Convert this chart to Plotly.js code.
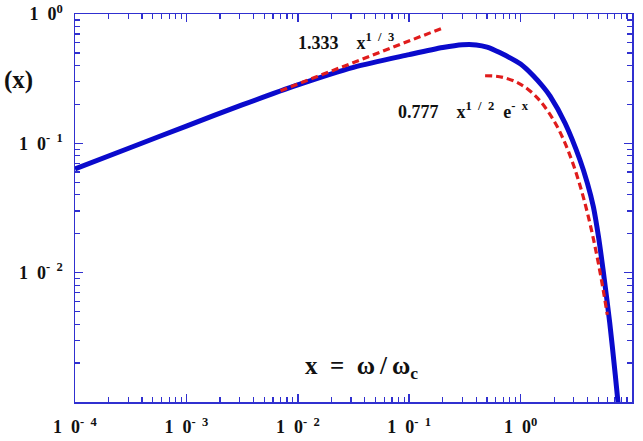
<!DOCTYPE html>
<html><head>
<script src="https://cdn.plot.ly/plotly-3.0.1.min.js"></script>
<style>html,body{margin:0;padding:0;background:#fff}</style>
</head>
<body>
<div id="chart" style="width:643px;height:441px"></div>
<script>
// Main curve
const curveX = [1e-4, 3.16e-4, 1e-3, 3.16e-3, 0.01, 0.0316, 0.1, 0.2, 0.3, 0.4, 0.5, 0.65, 1.0, 1.3, 1.585, 1.84, 2.51, 3.4, 3.98, 4.5, 5.01, 5.5, 6.31, 7.08, 7.48, 8.0];
const curveY = [0.0633, 0.0928, 0.136, 0.198, 0.283, 0.387, 0.485, 0.55, 0.578, 0.577, 0.555, 0.503, 0.41, 0.333, 0.275, 0.232, 0.143, 0.075, 0.049, 0.0323, 0.0188, 0.0105, 0.0041, 0.00162, 0.001, 0.00062];
// Low-x asymptote, 1.333 x^(1/3)
const lowX = [0.007, 0.01, 0.02, 0.05, 0.1, 0.2];
const lowY = [0.255, 0.287, 0.362, 0.491, 0.619, 0.780];
// High-x asymptote, 0.777 x^(1/2) e^(-x)
const highX = [0.48, 0.6, 0.7, 0.85, 1.0, 1.2, 1.5, 2.0, 2.5, 3.0, 3.5, 4.0, 4.5, 5.0, 5.5, 6.0];
const highY = [0.333, 0.3303, 0.3228, 0.3062, 0.2858, 0.2564, 0.2123, 0.1487, 0.1008, 0.0670, 0.0439, 0.02846, 0.01831, 0.01171, 0.00745, 0.00472];
// Tick labels
const xTickVals = [1e-4, 1e-3, 1e-2, 1e-1, 1e0, 1e1];
const xTickText = ['1\u20020<sup>-\u20024</sup>', '1\u20020<sup>-\u20023</sup>', '1\u20020<sup>-\u20022</sup>', '1\u20020<sup>-\u20021</sup>', '1\u20020<sup>0</sup>', '1\u20020<sup>1</sup>'];
const yTickVals = [1e-2, 1e-1, 1e0];
const yTickText = ['1\u20020<sup>-\u20022</sup>', '1\u20020<sup>-\u20021</sup>', '1\u20020<sup>0</sup>'];

function minorTicks(lo, hi) {
  const v = [];
  for (let e = lo; e < hi; e++) for (let d = 2; d <= 9; d++) v.push(d * Math.pow(10, e));
  return v;
}

const axisColor = '#3030d0';
const serif = 'Liberation Serif, Times New Roman, serif';
const tickFont = {family: serif, size: 18, color: '#111', weight: 'bold'};
const annFont = {family: serif, size: 18, color: '#111', weight: 'bold'};

const traces = [
  {x: curveX, y: curveY, mode: 'lines', line: {color: '#0a0acc', width: 5, shape: 'spline', smoothing: 0.8}, hoverinfo: 'skip'},
  {x: lowX, y: lowY, mode: 'lines', line: {color: '#e01c1c', width: 3.2, dash: '7px,4px'}, hoverinfo: 'skip'},
  {x: highX, y: highY, mode: 'lines', line: {color: '#e01c1c', width: 3.2, dash: '7px,4px', shape: 'spline'}, hoverinfo: 'skip'}
];

const axisCommon = {
  type: 'log', showgrid: false, zeroline: false,
  showline: true, linecolor: axisColor, linewidth: 1.5, mirror: 'allticks',
  ticks: 'inside', ticklen: 8, tickwidth: 1.5, tickcolor: axisColor,
  tickmode: 'array', tickfont: tickFont
};

const layout = {
  width: 643, height: 441,
  margin: {l: 75, r: 11, t: 14, b: 39},
  paper_bgcolor: '#fff', plot_bgcolor: '#fff',
  showlegend: false,
  xaxis: Object.assign({}, axisCommon, {
    range: [-4, 1], tickvals: xTickVals, ticktext: xTickText, ticklabelstandoff: 8,
    minor: {tickmode: 'array', tickvals: minorTicks(-4, 1), ticks: 'inside', ticklen: 5, tickwidth: 1.2, tickcolor: axisColor, showgrid: false}
  }),
  yaxis: Object.assign({}, axisCommon, {
    range: [-3, 0], tickvals: yTickVals, ticktext: yTickText, ticklabelstandoff: 7,
    minor: {tickmode: 'array', tickvals: minorTicks(-3, 0), ticks: 'inside', ticklen: 5, tickwidth: 1.2, tickcolor: axisColor, showgrid: false}
  }),
  annotations: [
    {xref: 'paper', yref: 'paper', x: -0.131, xanchor: 'left', y: 0.83, yanchor: 'middle', text: '(x)', showarrow: false,
     font: {family: serif, size: 25, color: '#111', weight: 'bold'}},
    {xref: 'paper', yref: 'paper', x: 0.41, xanchor: 'left', y: 0.09, yanchor: 'middle', text: 'x\u2002=\u2002ω\u2009/\u2009ω<sub>c</sub>', showarrow: false,
     font: {family: serif, size: 25, color: '#111', weight: 'bold'}},
    {xref: 'paper', yref: 'paper', x: 0.397, y: 0.928, xanchor: 'left', yanchor: 'middle', text: '1.333\u2003x<sup>1\u2002/\u20023</sup>', showarrow: false, font: annFont},
    {xref: 'paper', yref: 'paper', x: 0.576, y: 0.752, xanchor: 'left', yanchor: 'middle', text: '0.777\u2003x<sup>1\u2002/\u20022</sup>\u2002e<sup>-\u2002x</sup>', showarrow: false, font: annFont}
  ]
};

Plotly.newPlot('chart', traces, layout, {staticPlot: true, displayModeBar: false});
</script>
</body></html>
